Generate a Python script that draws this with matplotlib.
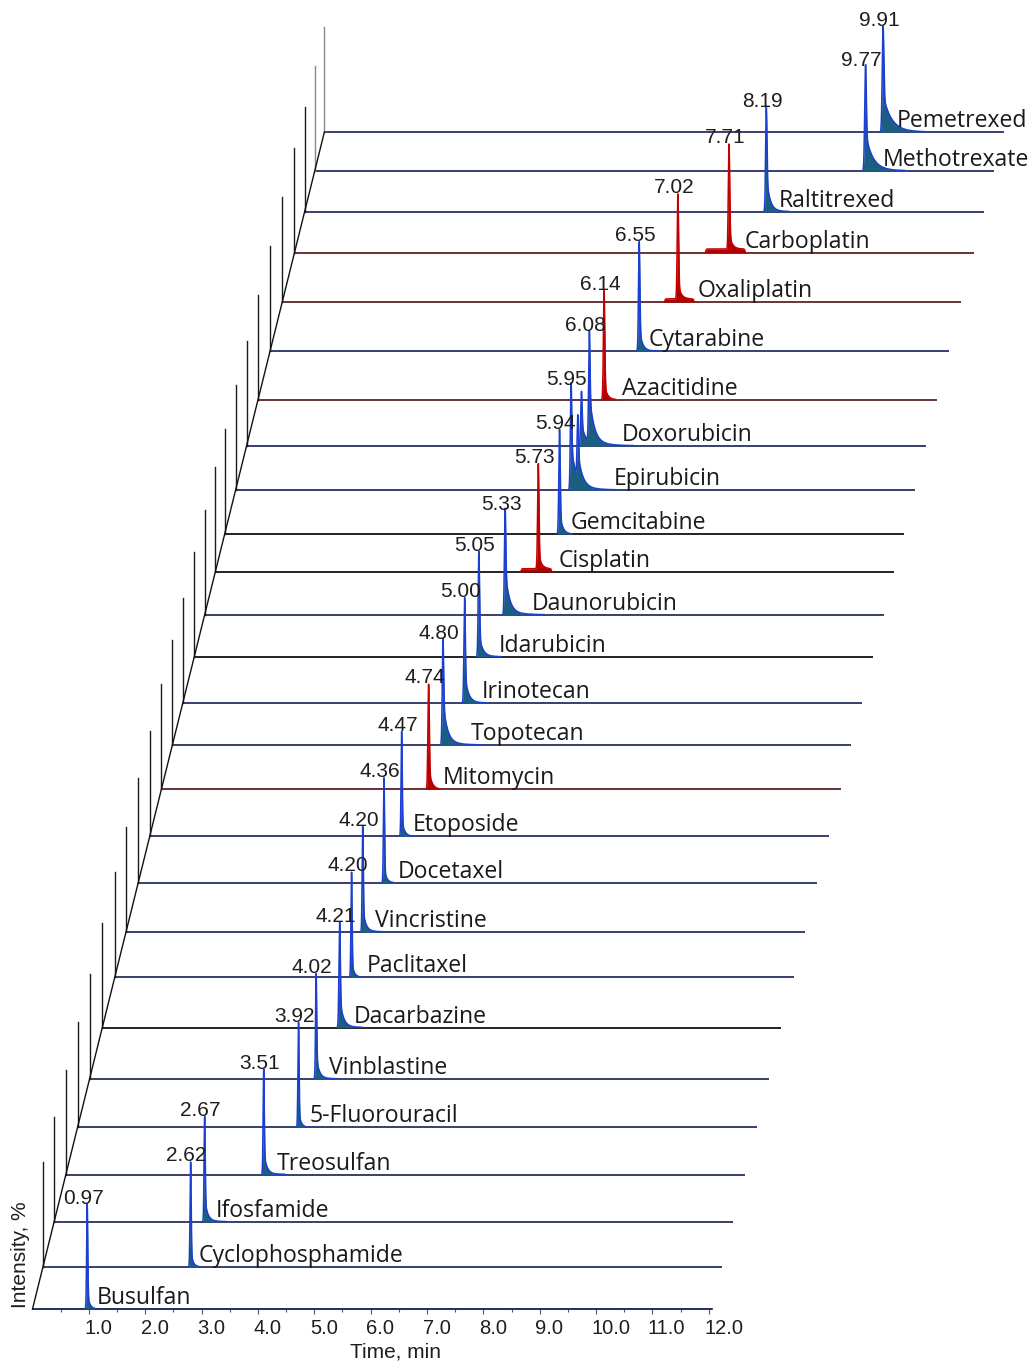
import numpy as np
import matplotlib.pyplot as plt
from matplotlib.transforms import ScaledTranslation

# Compounds, front (bottom) trace first
names = ['Busulfan', 'Cyclophosphamide', 'Ifosfamide', 'Treosulfan', '5-Fluorouracil',
         'Vinblastine', 'Dacarbazine', 'Paclitaxel', 'Vincristine', 'Docetaxel',
         'Etoposide', 'Mitomycin', 'Topotecan', 'Irinotecan', 'Idarubicin',
         'Daunorubicin', 'Cisplatin', 'Gemcitabine', 'Epirubicin', 'Doxorubicin',
         'Azacitidine', 'Cytarabine', 'Oxaliplatin', 'Carboplatin', 'Raltitrexed',
         'Methotrexate', 'Pemetrexed']
rt = [0.97, 2.62, 2.67, 3.51, 3.92, 4.02, 4.21, 4.20, 4.20, 4.36,
      4.47, 4.74, 4.80, 5.00, 5.05, 5.33, 5.73, 5.94, 5.95, 6.08,
      6.14, 6.55, 7.02, 7.71, 8.19, 9.77, 9.91]
height = [100, 100, 100, 100, 100, 100, 100, 100, 100, 100,
          100, 100, 100, 100, 100, 100, 100, 100, 100, 104,
          104, 104, 100, 100, 100, 100, 100]

# peak shape: gaussian width, tail fraction, tail decay (min), long tail (%)
width = [.010, .010, .010, .010, .010, .010, .012, .010, .010, .010,
         .010, .012, .012, .012, .012, .012, .012, .012, .012, .012,
         .012, .012, .012, .012, .012, .014, .014]
tail = [.15, .15, .20, .20, .15, .20, .25, .15, .20, .15,
        .15, .20, .35, .25, .20, .35, .15, .20, .35, .35,
        .15, .20, .15, .15, .30, .30, .30]
tau = [.04, .04, .05, .05, .04, .05, .06, .04, .05, .04,
       .05, .05, .07, .06, .06, .07, .05, .05, .08, .08,
       .05, .05, .05, .05, .06, .12, .14]
long_tail = [0, 0, 1, 1, 0, 1, 1, 0, 1, 0,
             0, 0, 3, 1, 1, 3, 0, 0, 4, 4,
             0, 1, 0, 0, 1, 2, 1.5]

# extra peaks (epimer) and pre-peak shelves of the platinum compounds
second_peak = {'Epirubicin': (6.07, 60), 'Doxorubicin': (5.94, 52)}
shelf = {'Cisplatin': (-0.30, 0.23, 3), 'Oxaliplatin': (-0.23, 0.28, 3),
         'Carboplatin': (-0.41, 0.28, 3.5)}

red_traces = ['Mitomycin', 'Cisplatin', 'Azacitidine', 'Oxaliplatin', 'Carboplatin']
black_baseline = ['Dacarbazine', 'Idarubicin', 'Cisplatin', 'Gemcitabine']

# layout: depth offset of each trace (in % units) and gap of the name label (px)
depth_offset = [0, 40, 83, 128, 173, 219, 268, 316, 359, 406,
                450, 495, 537, 577, 621, 661, 702, 738, 780, 822,
                866, 912, 959, 1006, 1045, 1084, 1121]
name_gap = [10, 8, 11, 13, 11, 13, 14, 15, 12, 14,
            11, 14, 28, 17, 20, 27, 20, 11, 43, 33,
            18, 9, 20, 16, 13, 17, 14]

W, H = 1035, 1362
PX_PER_MIN = 56.36
PX_PER_PCT = 1.05
X0_PX = 32.5
Y0_PX = 1309
SKEW = 0.248
T_END = 12.05

plt.rcParams['font.family'] = ['Liberation Sans', 'DejaVu Sans']

fig = plt.figure(figsize=(W / 100, H / 100), dpi=100)
ax = fig.add_axes([0, 0, 1, 1])
ax.set_xlim(-X0_PX / PX_PER_MIN, (W - X0_PX) / PX_PER_MIN)
ax.set_ylim(-(H - Y0_PX) / PX_PER_PCT, Y0_PX / PX_PER_PCT)


def step(x, w):
    return 0.5 * (1 + np.tanh(x / w))


def peak(t, c, w, tl, tc):
    g = np.exp(-0.5 * ((t - c) / w) ** 2)
    e = step(t - c, w) * np.exp(-np.clip(t - c, 0, None) / tc)
    p = (1 - tl) * g + tl * e
    return p / p.max()


t = np.linspace(0, T_END, 9000)
shift = [o * PX_PER_PCT * SKEW / PX_PER_MIN for o in depth_offset]

for i, name in enumerate(names):
    off = depth_offset[i]
    dx = shift[i]
    sig = height[i] * peak(t, rt[i], width[i], tail[i], tau[i])
    sig += long_tail[i] * step(t - rt[i], 0.02) * np.exp(-np.clip(t - rt[i], 0, None) / 0.3)
    if name in second_peak:
        c2, h2 = second_peak[name]
        sig += h2 * peak(t, c2, width[i], tail[i], tau[i])
    if name in shelf:
        a, b, hs = shelf[name]
        sig += hs * step(t - (rt[i] + a), 0.01) * step((rt[i] + b) - t, 0.01)
    top = sig[np.argmin(abs(t - rt[i]))]

    is_red = name in red_traces
    line_col = '#c40000' if is_red else '#1c3fd2'
    fill_col = '#b00000' if is_red else '#1b5f80'
    if is_red and name != 'Cisplatin':
        base_col = '#5a2424'
    elif name in black_baseline:
        base_col = '#111111'
    else:
        base_col = '#283260'
    z = 200 - 5 * i

    ax.plot([dx, T_END + dx], [off, off], color=base_col, lw=1.3, zorder=z,
            solid_capstyle='butt')
    ax.fill_between(t + dx, off, off + sig, color=fill_col, lw=0, zorder=z + 1)
    ax.plot(t + dx, np.ma.masked_less(sig, 0.3) + off, color=line_col, lw=1.1,
            zorder=z + 2)
    if i > 0:
        ax.plot([dx, dx], [off, off + 100], color='#888888' if i >= 25 else '#1a1a1a',
                lw=1.0, zorder=z)

    ax.annotate(f'{rt[i]:.2f}', xy=(rt[i] + dx, off + top), xytext=(-4, 1),
                textcoords='offset pixels', ha='center', va='baseline',
                fontsize=15, color='#1e1e1e', zorder=500)
    ax.annotate(name, xy=(rt[i] + dx, off), xytext=(name_gap[i], 5),
                textcoords='offset pixels', ha='left', va='baseline',
                fontsize=16.6, family=['Open Sans', 'DejaVu Sans'], color='#1a1a1a',
                zorder=500)

# depth axis joining the trace origins
ax.plot(shift, depth_offset, color='#111111', lw=1.0, zorder=300)

# time axis on the front trace
for s in ['top', 'right', 'left']:
    ax.spines[s].set_visible(False)
ax.spines['bottom'].set_position(('data', 0))
ax.spines['bottom'].set_bounds(0, T_END)
ax.spines['bottom'].set_color('#283260')
ax.spines['bottom'].set_linewidth(1.3)
ax.set_yticks([])
ticks = np.arange(1, 13)
ax.set_xticks(ticks)
ax.set_xticklabels([f'{v:.1f}' for v in ticks])
ax.set_xticks(np.arange(0.5, 12, 1.0), minor=True)
ax.tick_params(axis='x', which='major', length=3.6, width=0.8, color='#555555',
               labelsize=14.5, labelcolor='#1e1e1e', pad=3.5)
ax.tick_params(axis='x', which='minor', length=2.0, width=0.8, color='#555555')
for lbl in ax.get_xticklabels():
    lbl.set_horizontalalignment('left')
    lbl.set_transform(lbl.get_transform() + ScaledTranslation(-4.5 / 100, 0, fig.dpi_scale_trans))

fig.text(396 / W, 1 - 1352 / H, 'Time, min', ha='center', va='center',
         fontsize=15, color='#1e1e1e')
fig.text(21 / W, 1 - 1255 / H, 'Intensity, %', ha='center', va='center',
         rotation=90, fontsize=15, color='#1e1e1e')

fig.savefig('out.png', dpi=100)
